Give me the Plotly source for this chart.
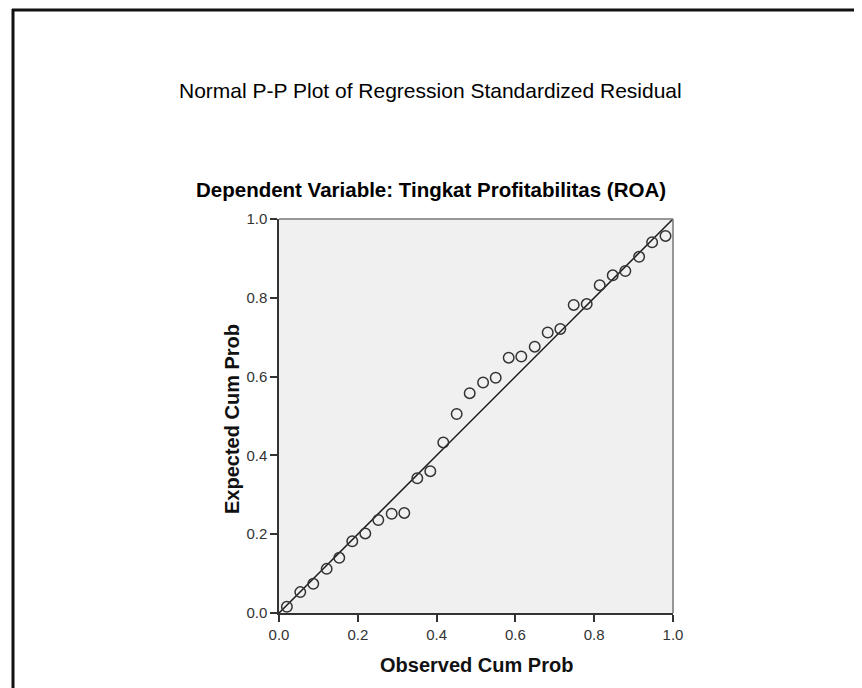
import plotly.graph_objects as go

observed_cum_prob = [0.020, 0.054, 0.087, 0.121, 0.153, 0.186, 0.219, 0.252, 0.286, 0.318,
                     0.351, 0.384, 0.417, 0.451, 0.484, 0.518, 0.550, 0.583, 0.615, 0.649,
                     0.682, 0.714, 0.748, 0.781, 0.814, 0.847, 0.879, 0.914, 0.947, 0.981]
expected_cum_prob = [0.016, 0.053, 0.074, 0.112, 0.140, 0.182, 0.202, 0.236, 0.252, 0.254,
                     0.342, 0.360, 0.433, 0.505, 0.558, 0.585, 0.597, 0.648, 0.651, 0.676,
                     0.712, 0.721, 0.782, 0.784, 0.832, 0.857, 0.868, 0.904, 0.941, 0.957]
ref_line = [0.0, 1.0]
tick_vals = [0.0, 0.2, 0.4, 0.6, 0.8, 1.0]
tick_text = ["0.0", "0.2", "0.4", "0.6", "0.8", "1.0"]

title_text = "Normal P-P Plot of Regression Standardized Residual"
subtitle_text = "Dependent Variable: Tingkat Profitabilitas (ROA)"
x_title = "Observed Cum Prob"
y_title = "Expected Cum Prob"

# page is rendered with an 8px body margin
OFF = 8
W, H = 862 - OFF, 688 - OFF
L, R, T, B = 271, 189, 211, 75
pw, ph = W - L - R, H - T - B


def px(xpage):
    return (xpage - OFF - L) / pw


def py(ypage):
    return (H - B - (ypage - OFF)) / ph


FONT = "Liberation Sans, Arial, sans-serif"

fig = go.Figure()
fig.add_trace(go.Scatter(x=ref_line, y=ref_line, mode="lines",
                         line=dict(color="#1a1a1a", width=1.5),
                         hoverinfo="skip", showlegend=False, cliponaxis=False))
fig.add_trace(go.Scatter(x=observed_cum_prob, y=expected_cum_prob, mode="markers",
                         marker=dict(symbol="circle-open", size=10.5, color="#333333",
                                     line=dict(width=1.5, color="#333333")),
                         showlegend=False))

axis_common = dict(range=[0, 1], tickvals=tick_vals, ticktext=tick_text,
                   ticks="outside", ticklen=7, tickwidth=1.5, tickcolor="#333333",
                   showgrid=False, zeroline=False, showline=True, linecolor="#333333",
                   linewidth=1.5, mirror=False,
                   tickfont=dict(family=FONT, size=15, color="#333333"))

fig.update_xaxes(**axis_common)
fig.update_yaxes(**axis_common)

shapes = [
    dict(type="line", xref="paper", yref="paper", x0=0, x1=1, y0=1, y1=1,
         line=dict(color="#777777", width=1.5)),
    dict(type="line", xref="paper", yref="paper", x0=1, x1=1, y0=0, y1=1,
         line=dict(color="#777777", width=1.5)),
    dict(type="line", xref="paper", yref="paper", x0=px(12), x1=px(875), y0=py(10), y1=py(10),
         line=dict(color="#111111", width=3)),
    dict(type="line", xref="paper", yref="paper", x0=px(13), x1=px(13), y0=py(9), y1=py(700),
         line=dict(color="#111111", width=3)),
]

annotations = [
    dict(text=title_text, xref="paper", yref="paper", x=px(430), y=py(90),
         xanchor="center", yanchor="middle", showarrow=False,
         font=dict(family=FONT, size=21, color="#000000")),
    dict(text="<b>" + subtitle_text + "</b>", xref="paper", yref="paper", x=px(431), y=py(190),
         xanchor="center", yanchor="middle", showarrow=False,
         font=dict(family=FONT, size=20.5, color="#000000")),
    dict(text="<b>" + x_title + "</b>", xref="paper", yref="paper", x=px(476), y=py(665),
         xanchor="center", yanchor="middle", showarrow=False,
         font=dict(family=FONT, size=20, color="#111111")),
    dict(text="<b>" + y_title + "</b>", xref="paper", yref="paper", x=px(232), y=py(419),
         xanchor="center", yanchor="middle", showarrow=False, textangle=-90,
         font=dict(family=FONT, size=20, color="#111111")),
]

fig.update_layout(width=W, height=H, margin=dict(l=L, r=R, t=T, b=B, autoexpand=False),
                  paper_bgcolor="white", plot_bgcolor="#f0f0f0",
                  shapes=shapes, annotations=annotations, showlegend=False)

fig.write_html("out.html")
